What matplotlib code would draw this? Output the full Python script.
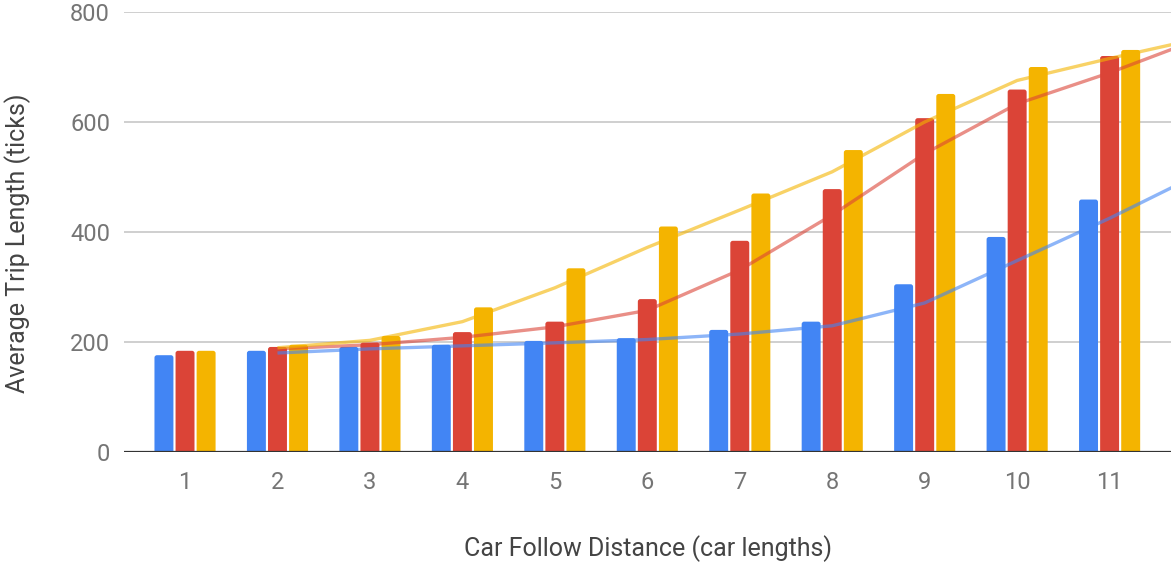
import matplotlib
matplotlib.use("Agg")
import matplotlib.pyplot as plt
from matplotlib.patches import FancyBboxPatch
import numpy as np

plt.rcParams['font.family'] = ['Roboto', 'DejaVu Sans']

categories = [1, 2, 3, 4, 5, 6, 7, 8, 9, 10, 11, 12]
series_blue = [176, 184, 191, 195, 202, 207, 222, 237, 305, 391, 459, 557]
series_red = [184, 191, 199, 218, 237, 278, 384, 478, 607, 659, 720, 786]
series_yellow = [184, 195, 211, 263, 334, 410, 470, 549, 651, 700, 731, 775]
y_ticks = [0, 200, 400, 600, 800]
x_label = "Car Follow Distance (car lengths)"
y_label = "Average Trip Length (ticks)"

colors = ["#4285F4", "#DB4437", "#F4B400"]
series = [series_blue, series_red, series_yellow]

W, H = 1171, 563
fig = plt.figure(figsize=(W / 100, H / 100), dpi=100)
ax = fig.add_axes([124 / W, (H - 452) / H, 1 - 124 / W, (452 - 12) / H])

xmin, xmax = 0.34, 11.664
ymin, ymax = 0, 800
ax.set_xlim(xmin, xmax)
ax.set_ylim(ymin, ymax)

ax_w_px = W - 124
ax_h_px = 452 - 12
xu_per_px = (xmax - xmin) / ax_w_px
yu_per_px = (ymax - ymin) / ax_h_px
aspect = yu_per_px / xu_per_px

x = np.array(categories, dtype=float)
bw = 0.205
step = 0.228
rs = 2.5 * xu_per_px
base = -10
for i, (vals, c) in enumerate(zip(series, colors)):
    bars = ax.bar(x + (i - 1) * step, vals, width=bw, color='none', zorder=2, linewidth=0)
    for b, v in zip(bars, vals):
        p = FancyBboxPatch((b.get_x(), base), bw, v - base,
                           boxstyle=f"round,pad=0,rounding_size={rs}",
                           mutation_aspect=aspect, facecolor=c,
                           edgecolor='none', zorder=2)
        ax.add_patch(p)

# moving average (period 2) trendlines
for vals, c in zip(series, colors):
    v = np.array(vals, dtype=float)
    ma = (v[1:] + v[:-1]) / 2
    ax.plot(x[1:], ma, color=c, alpha=0.6, linewidth=2.4, zorder=3,
            solid_capstyle='butt')

ax.set_xlim(xmin, xmax)
ax.set_ylim(ymin, ymax)
ax.set_yticks(y_ticks)
ax.set_xticks(categories[:11])
ax.set_xticklabels([str(c) for c in categories[:11]])
ax.grid(axis='y', color='#cccccc', linewidth=1.3, zorder=0)
ax.set_axisbelow(True)
for s in ax.spines.values():
    s.set_visible(False)
ax.axhline(0, color='#333333', linewidth=1.6, zorder=4)
ax.tick_params(axis='both', length=0, labelsize=17, labelcolor='#757575')
ax.tick_params(axis='y', pad=10)
ax.tick_params(axis='x', pad=14)

fig.text(648 / W, 1 - 549 / H, x_label, ha='center', va='center',
         fontsize=18, color='#444444')
fig.text(18 / W, 1 - 243 / H, y_label, ha='center', va='center',
         rotation=90, fontsize=18, color='#444444')

fig.savefig("out.png", dpi=100)
